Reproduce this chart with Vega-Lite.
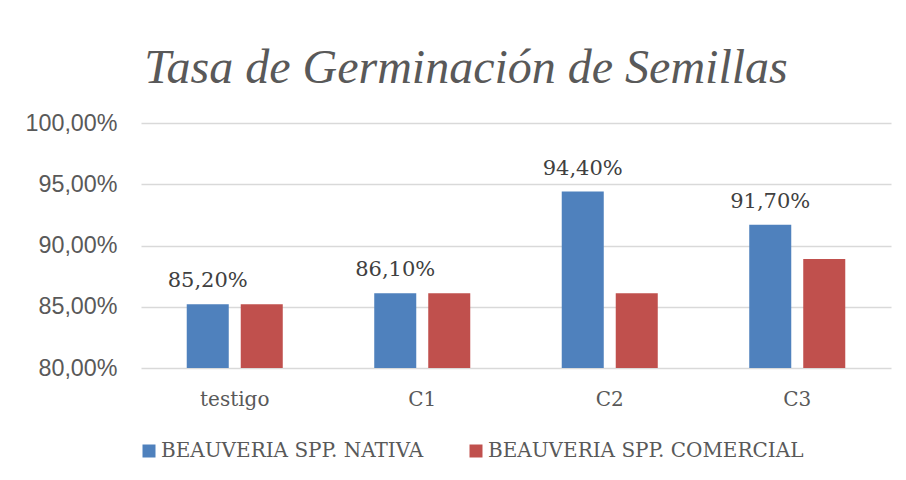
{
  "$schema": "https://vega.github.io/schema/vega-lite/v6.json",
  "autosize": "none",
  "width": 750,
  "height": 245,
  "padding": {"top": 123, "left": 141, "right": 15, "bottom": 112},
  "background": "white",
  "title": {
    "text": "Tasa de Germinación de Semillas",
    "font": "Liberation Serif",
    "fontStyle": "italic",
    "fontWeight": "normal",
    "fontSize": 48,
    "color": "#595959",
    "anchor": "middle",
    "frame": "group",
    "dx": -50,
    "offset": -20,
    "baseline": "alphabetic"
  },
  "data": {
    "values": [
      {"categoria": "testigo", "serie": "BEAUVERIA SPP. NATIVA", "valor": 0.852},
      {"categoria": "testigo", "serie": "BEAUVERIA SPP. COMERCIAL", "valor": 0.852},
      {"categoria": "C1", "serie": "BEAUVERIA SPP. NATIVA", "valor": 0.861},
      {"categoria": "C1", "serie": "BEAUVERIA SPP. COMERCIAL", "valor": 0.861},
      {"categoria": "C2", "serie": "BEAUVERIA SPP. NATIVA", "valor": 0.944},
      {"categoria": "C2", "serie": "BEAUVERIA SPP. COMERCIAL", "valor": 0.861},
      {"categoria": "C3", "serie": "BEAUVERIA SPP. NATIVA", "valor": 0.917},
      {"categoria": "C3", "serie": "BEAUVERIA SPP. COMERCIAL", "valor": 0.889}
    ]
  },
  "encoding": {
    "x": {
      "field": "categoria",
      "type": "nominal",
      "sort": ["testigo", "C1", "C2", "C3"],
      "scale": {"paddingInner": 0, "paddingOuter": 0},
      "axis": {
        "title": null,
        "labelAngle": 0,
        "domain": false,
        "ticks": false,
        "labelFont": "DejaVu Serif",
        "labelFontSize": 20,
        "labelColor": "#595959",
        "labelPadding": 21
      }
    },
    "xOffset": {
      "field": "serie",
      "type": "nominal",
      "sort": ["BEAUVERIA SPP. NATIVA", "BEAUVERIA SPP. COMERCIAL"],
      "scale": {"paddingInner": 0.222, "paddingOuter": 0.847}
    },
    "y": {
      "field": "valor",
      "type": "quantitative",
      "scale": {"domain": [0.8, 1.0], "nice": false, "zero": false},
      "axis": {
        "title": null,
        "values": [0.8, 0.85, 0.9, 0.95, 1.0],
        "format": ".2%",
        "domain": false,
        "ticks": false,
        "gridColor": "#d9d9d9",
        "gridWidth": 1.5,
        "labelFont": "Liberation Sans",
        "labelFontSize": 23.3,
        "labelColor": "#595959",
        "labelPadding": 24
      }
    }
  },
  "layer": [
    {
      "mark": {"type": "bar", "clip": true},
      "encoding": {
        "color": {
          "field": "serie",
          "type": "nominal",
          "sort": ["BEAUVERIA SPP. NATIVA", "BEAUVERIA SPP. COMERCIAL"],
          "scale": {"range": ["#4F81BD", "#C0504D"]},
          "legend": {
            "title": null,
            "orient": "none",
            "direction": "horizontal",
            "legendX": -2,
            "legendY": 318,
            "padding": 0,
            "symbolType": "square",
            "symbolSize": 169,
            "symbolStrokeWidth": 0,
            "labelFont": "DejaVu Serif",
            "labelFontSize": 20,
            "labelColor": "#595959",
            "labelOffset": 2,
            "labelLimit": 500,
            "columnPadding": 42
          }
        }
      }
    },
    {
      "transform": [{"filter": "datum.serie === 'BEAUVERIA SPP. NATIVA'"}],
      "mark": {
        "type": "text",
        "font": "DejaVu Serif",
        "fontSize": 21,
        "color": "#404040",
        "baseline": "alphabetic",
        "dy": -17
      },
      "encoding": {
        "text": {"field": "valor", "type": "quantitative", "format": ".2%"}
      }
    }
  ],
  "config": {
    "locale": {
      "number": {
        "decimal": ",",
        "thousands": ".",
        "grouping": [3],
        "currency": ["", " €"]
      }
    },
    "view": {"stroke": null}
  }
}
